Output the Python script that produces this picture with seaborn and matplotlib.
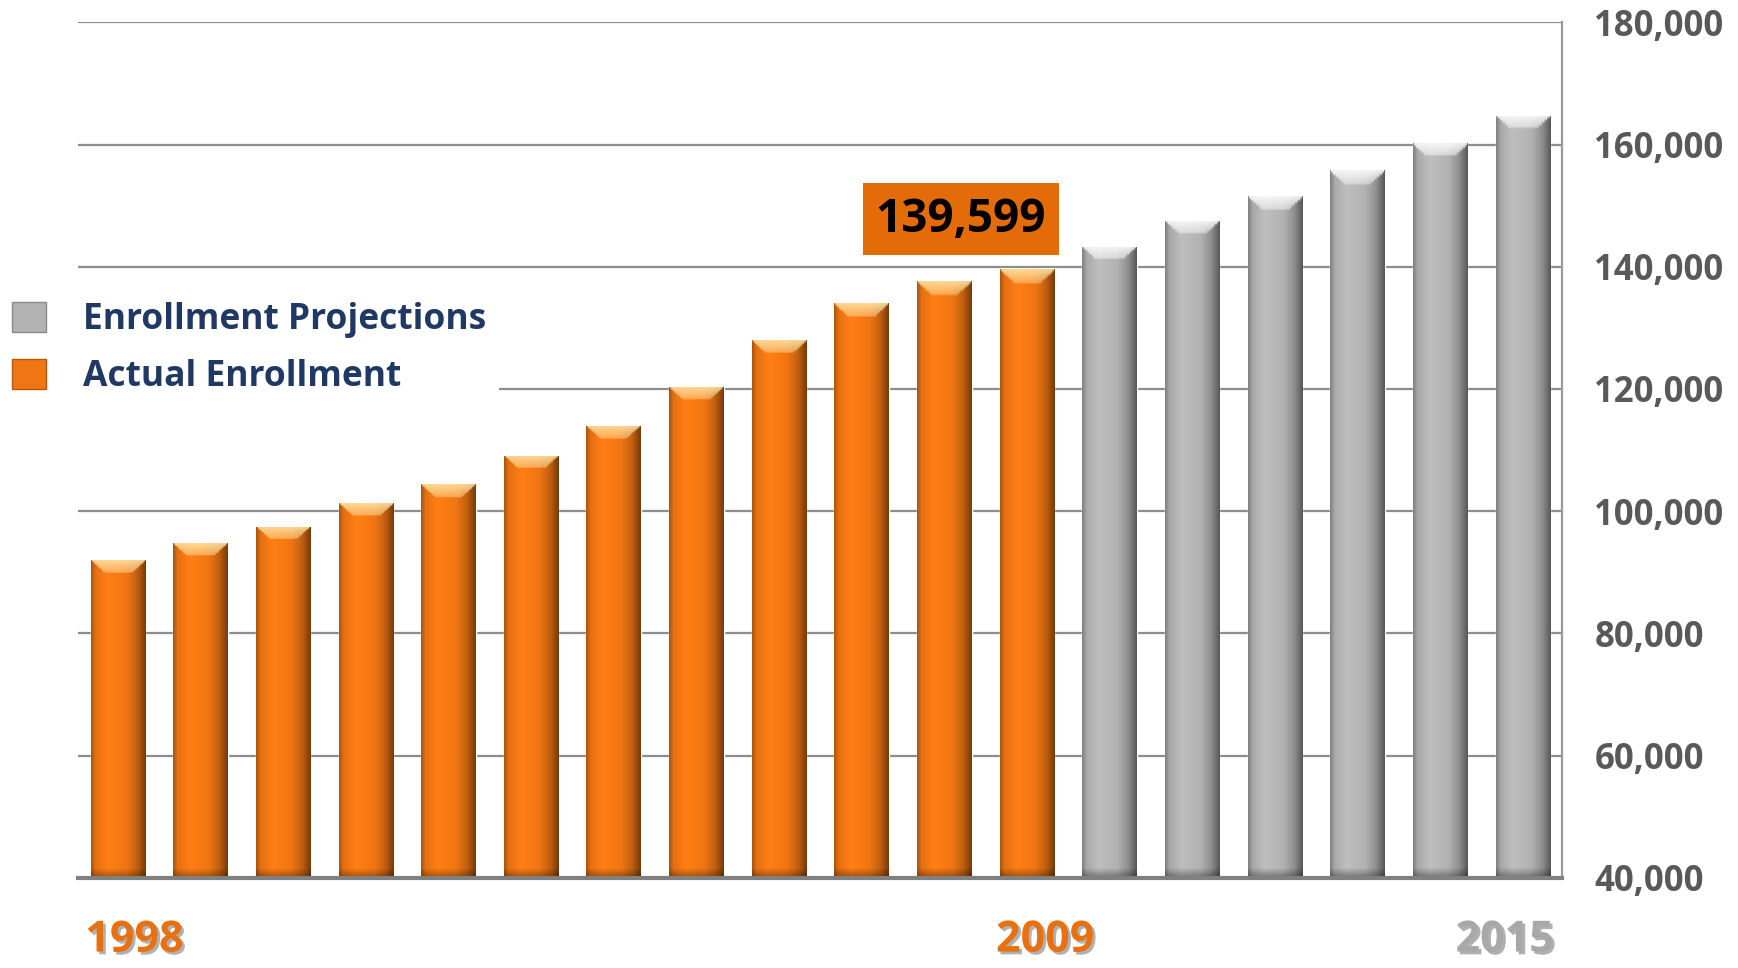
import numpy as np
import pandas as pd
import seaborn as sns
import matplotlib.pyplot as plt
from matplotlib import patheffects as pe
from matplotlib.patches import Patch
from matplotlib.colors import to_rgb

years = list(range(1998, 2016))
enrollment = [92000, 94800, 97500, 101300, 104400, 109100, 114000, 120400, 128000,
              134000, 137600, 139599, 143300, 147500, 151500, 155800, 160200, 164700]
status = ["Actual Enrollment"] * 12 + ["Enrollment Projections"] * 6
marked_years = [1998, 2009, 2015]
highlight_year = 2009

ORANGE = "#F07613"
GRAY = "#B2B2B2"
palette = {"Actual Enrollment": ORANGE, "Enrollment Projections": GRAY}
caps = {"Actual Enrollment": "#FFE7A8", "Enrollment Projections": "#FFFFFF"}

df = pd.DataFrame({"year": years, "enrollment": enrollment, "status": status})

sns.set_style("white")
plt.rcParams["font.family"] = ["Open Sans", "DejaVu Sans"]

fig = plt.figure(figsize=(17.38, 9.68), dpi=100)
ax = fig.add_axes([0.045, 0.093, 0.854, 0.884])

sns.barplot(data=df, x="year", y="enrollment", hue="status", palette=palette,
            dodge=False, width=0.66, legend=False, ax=ax, zorder=2)

ymin, ymax = 40000, 180000

# bevelled look: horizontal shading + light cap, clipped to each bar
shade_t = [0.0, 0.08, 0.3, 0.65, 0.85, 1.0]
shade_f = [0.72, 0.95, 1.07, 1.0, 0.8, 0.5]
for patch in ax.patches:
    x0, w, h = patch.get_x(), patch.get_width(), patch.get_height()
    if h <= 0:
        continue
    idx = int(round(x0 + w / 2))
    base = np.array(to_rgb(palette[status[idx]]))
    cap = np.array(to_rgb(caps[status[idx]]))
    nrows = 300
    ys = np.linspace(ymin, h, nrows)
    t = np.linspace(0, 1, 60)
    f = np.interp(t, shade_t, shade_f)
    row = np.clip(base[None, :] * f[:, None], 0, 1)
    img = np.repeat(row[None, :, :], nrows, axis=0)
    # cap is a trapezoid: full width at the top, narrowing downwards
    depth = (h - ys) / 2000
    inside = (np.abs(t[None, :] - 0.5) < 0.5 - 0.25 * depth[:, None]) & (depth[:, None] < 1)
    cap_w = np.where(inside, 0.85 * (1 - 0.5 * depth[:, None]), 0)
    img = img * (1 - cap_w[:, :, None]) + cap[None, None, :] * cap_w[:, :, None]
    bot_w = np.clip(1 - (ys - ymin) / 1500, 0, 1)
    img = img * (1 - bot_w[:, None, None] * 0.35)
    im = ax.imshow(img, extent=(x0, x0 + w, ymin, h), origin="lower",
                   aspect="auto", zorder=2.5, interpolation="bilinear")
    im.set_clip_path(patch)

ax.set_xlim(-0.48, len(years) - 0.52)
ax.set_ylim(ymin, ymax)
ax.set_yticks(range(ymin, ymax + 1, 20000))
ax.yaxis.tick_right()
ax.yaxis.set_major_formatter(plt.FuncFormatter(lambda v, p: f"{v:,.0f}"))
ax.tick_params(axis="y", length=0, pad=23, labelsize=25, labelcolor="#595959")
for lab in ax.get_yticklabels():
    lab.set_fontweight("bold")
ax.set_xticks([])
ax.set_xlabel("")
ax.set_ylabel("")
ax.yaxis.grid(True, color="#8C8C8C", lw=1.6)
ax.set_axisbelow(True)
for s in ["left", "top"]:
    ax.spines[s].set_visible(False)
ax.spines["right"].set_color("#9A9A9A")
ax.spines["right"].set_linewidth(1.6)
ax.spines["bottom"].set_color("#808080")
ax.spines["bottom"].set_linewidth(3)

# year labels under the first, last actual and last projected bars
label_shift = {1998: 0.2, 2009: 0.22, 2015: -0.22}
for yr in marked_years:
    i = years.index(yr)
    col = "#E8700F" if status[i] == "Actual Enrollment" else "#A8A8A8"
    ax.text(i + label_shift[yr], -0.086, str(yr), transform=ax.get_xaxis_transform(),
            ha="center", va="baseline", fontsize=31, fontweight="bold", color=col,
            path_effects=[pe.SimplePatchShadow(offset=(2, -2), shadow_rgbFace="#505050", alpha=0.45),
                          pe.Normal()])

# callout for the latest actual value
hi = years.index(highlight_year)
ax.text(hi - 0.8, enrollment[hi] + 8200, f"{enrollment[hi]:,}", ha="center", va="center",
        fontsize=33, fontweight="bold", color="black", zorder=5,
        bbox=dict(boxstyle="square,pad=0.28", facecolor="#E36C09", edgecolor="none"))

handles = [Patch(facecolor=GRAY, edgecolor="#8A8A8A"), Patch(facecolor=ORANGE, edgecolor="#B85708")]
leg = fig.legend(handles, ["Enrollment Projections", "Actual Enrollment"],
                 loc="upper left", bbox_to_anchor=(0.0, 0.701), frameon=True,
                 facecolor="white", edgecolor="none", framealpha=1,
                 prop={"size": 25.5, "weight": "bold"}, labelcolor="#1F3864",
                 handlelength=0.95, handleheight=0.95, handletextpad=1.05,
                 labelspacing=0.58, borderpad=0.35, borderaxespad=0)

fig.savefig("out.png", dpi=100)
